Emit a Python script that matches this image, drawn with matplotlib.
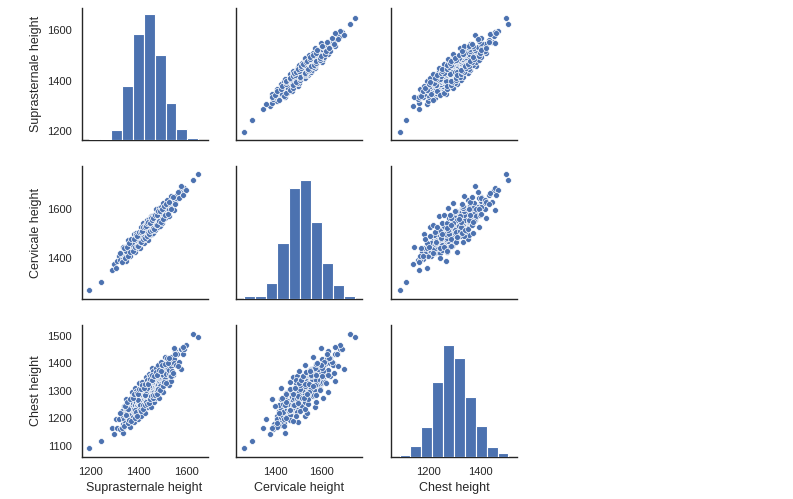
import numpy as np
import pandas as pd
import seaborn as sns
import matplotlib
matplotlib.use('Agg')
from matplotlib import pyplot as plt

suprasternale = [
    1195, 1244, 1288, 1297, 1305, 1312, 1318, 1325,
    1331, 1334, 1335, 1339, 1341, 1342, 1345, 1346, 1348, 1350,
    1351, 1353, 1354, 1356, 1357, 1359, 1360, 1361, 1363, 1364,
    1365, 1366, 1368, 1369, 1370, 1371, 1372, 1373, 1374, 1347,
    1375, 1376, 1377, 1378, 1379, 1380, 1381, 1382, 1383, 1385,
    1386, 1387, 1388, 1389, 1390, 1391, 1392, 1393, 1394, 1395,
    1396, 1396, 1397, 1398, 1399, 1400, 1400, 1401, 1402, 1403,
    1403, 1404, 1405, 1405, 1406, 1407, 1407, 1408, 1409, 1409,
    1410, 1410, 1411, 1412, 1412, 1413, 1414, 1414, 1415, 1415,
    1416, 1416, 1417, 1417, 1418, 1418, 1419, 1419, 1384, 1398,
    1420, 1421, 1421, 1422, 1422, 1423, 1423, 1424, 1424, 1425,
    1425, 1426, 1426, 1427, 1427, 1428, 1428, 1429, 1429, 1430,
    1430, 1431, 1431, 1432, 1432, 1433, 1433, 1434, 1434, 1435,
    1435, 1436, 1436, 1437, 1437, 1438, 1438, 1439, 1439, 1440,
    1440, 1441, 1442, 1442, 1443, 1444, 1444, 1445, 1446, 1447,
    1447, 1448, 1449, 1450, 1451, 1451, 1452, 1453, 1454, 1455,
    1456, 1457, 1458, 1459, 1460, 1461, 1462, 1463, 1464, 1465,
    1438, 1443, 1449, 1427, 1433,
    1466, 1467, 1467, 1468, 1469, 1470, 1470, 1471, 1472, 1473,
    1473, 1474, 1475, 1476, 1476, 1477, 1478, 1479, 1479, 1480,
    1481, 1482, 1482, 1483, 1484, 1485, 1486, 1486, 1487, 1488,
    1489, 1490, 1491, 1492, 1493, 1494, 1495, 1496, 1497, 1498,
    1499, 1500, 1502, 1503, 1504, 1505, 1507, 1508, 1509, 1511,
    1513, 1515, 1517, 1518, 1520, 1522, 1524, 1526, 1527, 1529,
    1531, 1533, 1535, 1537, 1539, 1541, 1544, 1547, 1550, 1553, 1556,
    1562, 1570, 1577, 1585, 1592, 1599, 1627, 1650,
    # pontos da borda da faixa
    1336, 1348, 1357, 1366, 1372, 1380, 1386, 1391, 1397, 1402,
    1408, 1412, 1416, 1421, 1425, 1428, 1432, 1436, 1440, 1444,
    1447, 1451, 1455, 1459, 1462, 1466, 1470, 1475, 1480, 1485,
    1490, 1495, 1500, 1505, 1510, 1518, 1528, 1538, 1549, 1580,
    # pontos entre o meio e a borda
    1322, 1333, 1338, 1344, 1352, 1358, 1362, 1367, 1371, 1378,
    1382, 1385, 1389, 1393, 1396, 1399, 1403, 1406, 1409, 1412,
    1415, 1418, 1421, 1424, 1426, 1429, 1431, 1434, 1437, 1439,
    1442, 1445, 1448, 1450, 1453, 1456, 1458, 1461, 1463, 1466,
    1469, 1472, 1476, 1479, 1483, 1486, 1490, 1494, 1498, 1502,
    1506, 1510, 1516, 1523, 1530, 1537, 1544, 1552, 1566, 1588,
]
cervicale = [
    1266, 1300, 1348, 1376, 1360, 1388, 1407, 1392,
    1418, 1394, 1414, 1392, 1425, 1412, 1437, 1411, 1424, 1406,
    1450, 1426, 1441, 1418, 1439, 1409, 1449, 1429, 1441, 1423,
    1460, 1440, 1452, 1433, 1473, 1427, 1453, 1443, 1464, 1429,
    1455, 1437, 1475, 1446, 1466, 1456, 1435, 1474, 1464, 1450,
    1470, 1460, 1483, 1451, 1470, 1462, 1482, 1451, 1497, 1470,
    1483, 1463, 1480, 1458, 1491, 1472, 1479, 1454, 1499, 1472,
    1487, 1480, 1494, 1469, 1487, 1464, 1501, 1481, 1495, 1474,
    1511, 1481, 1494, 1474, 1501, 1491, 1506, 1471, 1500, 1484,
    1512, 1491, 1497, 1480, 1506, 1490, 1518, 1486, 1474, 1478,
    1504, 1486, 1522, 1498, 1510, 1483, 1514, 1495, 1504, 1520,
    1493, 1509, 1481, 1513, 1524, 1501, 1517, 1493, 1510, 1523,
    1508, 1491, 1519, 1537, 1503, 1516, 1500, 1529, 1509, 1521,
    1526, 1499, 1517, 1536, 1510, 1517, 1532, 1497, 1523, 1529,
    1508, 1538, 1518, 1528, 1505, 1534, 1526, 1515, 1549, 1521,
    1534, 1513, 1541, 1528, 1537, 1511, 1549, 1526, 1536, 1545,
    1524, 1558, 1537, 1546, 1525, 1553, 1538, 1547, 1559, 1537,
    1526, 1512, 1547, 1502, 1515,
    1541, 1564, 1530, 1554, 1561, 1540, 1573, 1550, 1562, 1539,
    1557, 1569, 1548, 1582, 1553, 1565, 1546, 1579, 1560, 1573,
    1543, 1571, 1567, 1555, 1582, 1561, 1580, 1550, 1578, 1571,
    1558, 1591, 1569, 1579, 1553, 1590, 1570, 1589, 1582, 1566,
    1599, 1580, 1593, 1575, 1609, 1582, 1594, 1574, 1604, 1595,
    1606, 1585, 1619, 1597, 1607, 1586, 1620, 1616, 1602, 1628,
    1614, 1639, 1608, 1626, 1607, 1636, 1630, 1626, 1650, 1629, 1649,
    1660, 1648, 1680, 1668, 1690, 1681, 1722, 1745,
    1444, 1385, 1473, 1409, 1456, 1499, 1423, 1504, 1439, 1492,
    1442, 1529, 1465, 1544, 1462, 1537, 1477, 1556, 1475, 1560,
    1495, 1574, 1498, 1574, 1503, 1578, 1516, 1601, 1528, 1605,
    1530, 1610, 1545, 1628, 1563, 1638, 1572, 1657, 1598, 1697,
    1418, 1384, 1439, 1399, 1446, 1406, 1462, 1424, 1476, 1429,
    1479, 1445, 1493, 1448, 1490, 1448, 1506, 1466, 1508, 1464,
    1509, 1476, 1528, 1487, 1528, 1482, 1530, 1492, 1544, 1501,
    1546, 1497, 1544, 1511, 1563, 1513, 1557, 1525, 1566, 1521,
    1576, 1535, 1575, 1536, 1593, 1552, 1593, 1550, 1600, 1562,
    1615, 1575, 1622, 1582, 1632, 1602, 1653, 1623, 1672, 1661,
]
chest = [
    1091, 1116, 1164, 1144, 1196, 1166, 1198, 1161,
    1226, 1181, 1205, 1168, 1245, 1198, 1220, 1184, 1233, 1210,
    1232, 1176, 1219, 1247, 1205, 1199, 1231, 1193, 1260, 1216,
    1242, 1183, 1234, 1252, 1242, 1206, 1228, 1279, 1217, 1211,
    1262, 1225, 1244, 1206, 1257, 1239, 1222, 1281, 1235, 1257,
    1218, 1250, 1272, 1235, 1281, 1211, 1259, 1248, 1273, 1232,
    1302, 1245, 1271, 1227, 1261, 1286, 1242, 1252, 1271, 1297,
    1236, 1264, 1220, 1280, 1261, 1288, 1253, 1272, 1247, 1297,
    1279, 1232, 1268, 1288, 1263, 1311, 1248, 1278, 1258, 1298,
    1277, 1245, 1288, 1265, 1309, 1235, 1274, 1297, 1229, 1267,
    1259, 1308, 1282, 1252, 1293, 1274, 1321, 1269, 1303, 1247,
    1291, 1281, 1309, 1263, 1291, 1330, 1255, 1298, 1277, 1305,
    1247, 1291, 1313, 1275, 1322, 1285, 1306, 1267, 1292, 1328,
    1280, 1312, 1246, 1301, 1274, 1322, 1296, 1263, 1308, 1293,
    1320, 1281, 1304, 1260, 1330, 1293, 1317, 1279, 1312, 1345,
    1275, 1309, 1292, 1326, 1305, 1341, 1282, 1319, 1301, 1337,
    1296, 1315, 1351, 1281, 1328, 1311, 1339, 1297, 1324, 1367,
    1284, 1318, 1276, 1285, 1302,
    1330, 1296, 1356, 1314, 1341, 1282, 1327, 1351, 1310, 1335,
    1296, 1342, 1330, 1311, 1369, 1321, 1353, 1298, 1338, 1345,
    1330, 1363, 1313, 1379, 1324, 1345, 1301, 1355, 1334, 1365,
    1342, 1315, 1376, 1330, 1355, 1344, 1384, 1324, 1355, 1304,
    1370, 1343, 1383, 1338, 1358, 1402, 1339, 1371, 1329, 1386,
    1343, 1397, 1361, 1383, 1332, 1381, 1400, 1362, 1417, 1376,
    1398, 1353, 1389, 1422, 1371, 1401, 1359, 1417, 1401, 1445, 1396,
    1433, 1404, 1452, 1435, 1454, 1468, 1507, 1496,
    1148, 1270, 1235, 1170, 1296, 1186, 1310, 1301, 1197, 1327,
    1247, 1208, 1332, 1318, 1232, 1219, 1351, 1312, 1240, 1360,
    1355, 1242, 1280, 1382, 1372, 1261, 1275, 1382, 1396, 1275,
    1317, 1404, 1297, 1296, 1422, 1418, 1321, 1337, 1457, 1380,
    1218, 1166, 1174, 1244, 1259, 1182, 1194, 1271, 1189, 1273,
    1289, 1203, 1223, 1293, 1208, 1287, 1306, 1231, 1227, 1307,
    1322, 1249, 1233, 1312, 1326, 1249, 1259, 1338, 1253, 1330,
    1324, 1255, 1271, 1345, 1281, 1340, 1358, 1273, 1286, 1353,
    1284, 1369, 1359, 1288, 1307, 1377, 1302, 1373, 1395, 1318,
    1333, 1398, 1330, 1403, 1421, 1356, 1366, 1434, 1390, 1460,
]

colunas = ['Suprasternale height', 'Cervicale height', 'Chest height']
limites = [(1163, 1689), (1232, 1777), (1059, 1540)]
marcas_y = [[1200, 1400, 1600], [1400, 1600], [1100, 1200, 1300, 1400, 1500]]
marcas_x = [[1200, 1400, 1600], [1400, 1600], [1200, 1400]]

sns.set_style('white')
plt.rcParams['font.family'] = ['Liberation Sans', 'DejaVu Sans']
plt.rcParams['xtick.labelsize'] = 8
plt.rcParams['ytick.labelsize'] = 8
plt.rcParams['axes.labelsize'] = 9
plt.rcParams['axes.edgecolor'] = '.15'

df = pd.DataFrame({colunas[0]: suprasternale, colunas[1]: cervicale, colunas[2]: chest})

g = sns.pairplot(df, diag_kind='hist',
                 plot_kws=dict(s=18, color='#4C72B0', edgecolor='white', linewidth=0.5),
                 diag_kws=dict(bins=10, color='#4C72B0', edgecolor='white', linewidth=0.8, alpha=1))
fig = g.figure
fig.set_size_inches(7.93, 4.99)
fig.subplots_adjust(left=0.103, right=0.652, top=0.984, bottom=0.084, wspace=0.23, hspace=0.2)

for i in range(3):
    for j in range(3):
        ax = g.axes[i][j]
        ax.set_xlim(limites[j])
        if i != j:
            ax.set_ylim(limites[i])
        for s in ax.spines.values():
            s.set_linewidth(1.0)
for j in range(3):
    g.axes[2][j].set_xticks(marcas_x[j])
for i in range(3):
    g.axes[i][0].set_yticks(marcas_y[i])
g.axes[0][1].set_ylim(limites[0])
# histogramas da diagonal ficam com o x da coluna
for i in range(3):
    g.diag_axes[i].set_xlim(limites[i])

fig.savefig('out.png', dpi=100)
